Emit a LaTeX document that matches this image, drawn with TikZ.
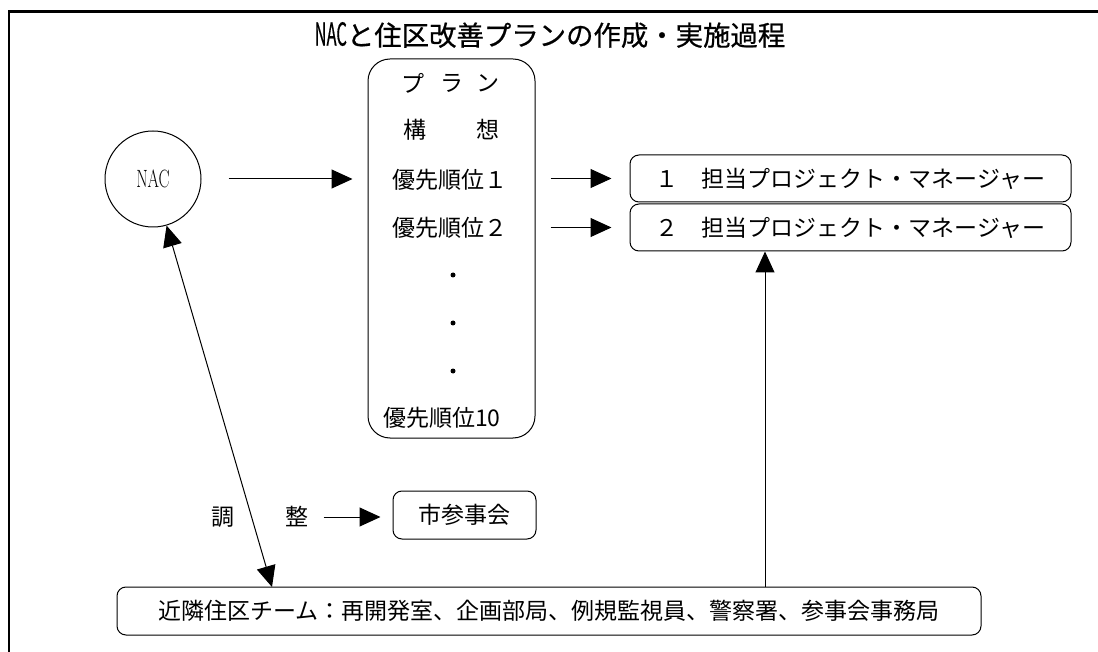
\documentclass[tikz,border=0pt]{standalone}
\usepackage{fontspec}
\usepackage{graphicx}
\newfontfamily\jp{Noto Sans CJK JP}
\newfontfamily\jpt[FakeBold=0.6]{Noto Sans CJK JP}
\usetikzlibrary{arrows.meta}
\begin{document}
\begin{tikzpicture}[x=1pt,y=-1pt,
  txt/.style={font=\jp\fontsize{23}{26}\selectfont, inner sep=0pt},
  rbox/.style={draw, line width=1pt, rounded corners=9pt, inner sep=0pt, font=\jp\fontsize{23}{26}\selectfont},
  arr/.style={line width=1pt, -{Triangle[length=21pt,width=19pt]}},
  dbl/.style={line width=1pt, {Triangle[length=21pt,width=19pt]}-{Triangle[length=21pt,width=19pt]}},
  dotn/.style={circle, fill, inner sep=0pt, minimum size=5pt}
]
\useasboundingbox (0,0) rectangle (1098,652);
\draw[line width=2.5pt] (9,700) -- (9,11.5) -- (1120,11.5);
\node[font=\jpt\fontsize{27.4}{30}\selectfont, inner sep=0pt] (title) at (550,35) {\scalebox{0.6}[1.15]{NAC}と住区改善プランの作成・実施過程};
\node[draw, circle, minimum size=96pt, inner sep=0pt, line width=1pt, font=\fontsize{25}{27}\selectfont] (nac) at (153,179) {\scalebox{0.66}[1]{NAC}};
\node[draw, line width=1pt, rounded corners=22pt, minimum width=167pt, minimum height=379pt, inner sep=0pt] (plan) at (451.5,248.5) {};
\node[txt] (pu) at (413,83) {プ};
\node[txt] (pr) at (452,83) {ラ};
\node[txt] (pn) at (488,83) {ン};
\node[txt] (k1) at (415,130) {構};
\node[txt] (k2) at (488,130) {想};
\node[txt] (p1) at (450,180) {優先順位１};
\node[txt] (p2) at (450,228) {優先順位２};
\node[dotn] (d1) at (453,275) {};
\node[dotn] (d2) at (453,323) {};
\node[dotn] (d3) at (453,371) {};
\node[txt, anchor=west] (p10) at (383,418) {優先順位10};
\node[rbox, minimum width=441pt, minimum height=47pt] (pm1) at (850.5,178.5) {１　担当プロジェクト・マネージャー};
\node[rbox, minimum width=441pt, minimum height=47pt] (pm2) at (850.5,227.5) {２　担当プロジェクト・マネージャー};
\node[rbox, minimum width=864pt, minimum height=48pt] (team) at (549,611) {近隣住区チーム：再開発室、企画部局、例規監視員、警察署、参事会事務局};
\node[rbox, minimum width=143pt, minimum height=48pt] (council) at (464.5,515) {市参事会};
\node[txt] (ch1) at (223,517) {調};
\node[txt] (ch2) at (297,517) {整};
\coordinate (vx) at (765,400);
\coordinate (dt) at (272,587);
\draw[arr, shorten <=27pt, shorten >=15pt] (nac.east) -- (plan.west |- nac.east);
\draw[arr, shorten <=15pt, shorten >=18pt] (plan.east |- pm1) -- (pm1.west);
\draw[arr, shorten <=15pt, shorten >=18pt] (plan.east |- pm2) -- (pm2.west);
\draw[arr] (team.north -| vx) -- (pm2.south -| vx);
\draw[arr, shorten <=15pt, shorten >=12pt] (ch2.east) -- (council.west |- ch2);
\draw[dbl] (nac) -- (dt);
\end{tikzpicture}
\end{document}
